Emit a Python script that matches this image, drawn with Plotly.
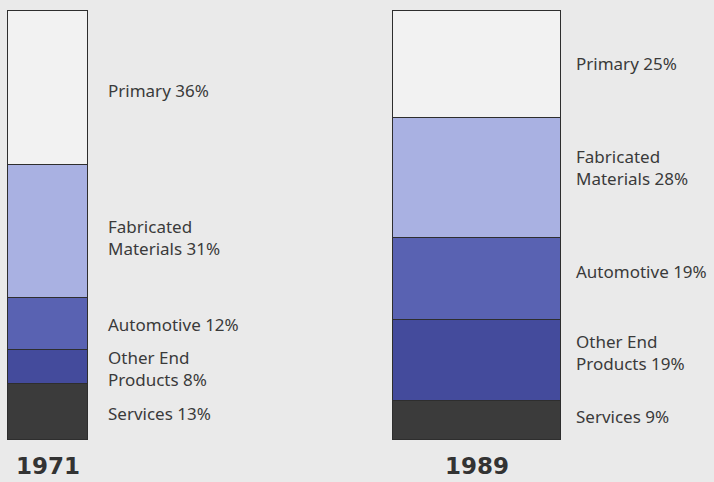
import plotly.graph_objects as go

# Share of shipments by market, two years compared
years = ["1971", "1989"]
segments = ["Services", "Other End<br>Products", "Automotive", "Fabricated<br>Materials", "Primary"]
share_1971 = [13, 8, 12, 31, 36]
share_1989 = [9, 19, 19, 28, 25]

# styling
colors = ["#3b3b3b", "#444b9c", "#5962b2", "#a9b1e2", "#f2f2f2"]
bar_centers = [48, 477]
bar_widths = [80, 168]
label_gap = [18, 13]
# vertical nudges (px) for the segment captions, bottom to top
label_nudge = {"1971": [-1, -1, 0, -6, -2], "1989": [4, 8, 8, 11, 1]}
text_color = "#3a3a3a"
bg = "#eaeaea"

shares = {"1971": share_1971, "1989": share_1989}

fig = go.Figure()
for i, seg in enumerate(segments):
    fig.add_trace(go.Bar(
        x=bar_centers,
        y=[shares[y][i] for y in years],
        width=bar_widths,
        marker=dict(color=colors[i], line=dict(color="#2e2e2e", width=1.2)),
        name=seg.replace("<br>", " "),
        showlegend=False,
        hoverinfo="skip",
    ))

# captions beside each segment
for j, yr in enumerate(years):
    vals = shares[yr]
    base = 0
    for i, seg in enumerate(segments):
        mid = base + vals[i] / 2
        base += vals[i]
        fig.add_annotation(
            x=bar_centers[j] + bar_widths[j] / 2 + label_gap[j],
            y=mid,
            xref="x", yref="y",
            yshift=label_nudge[yr][i],
            text=f"{seg} {vals[i]}%",
            showarrow=False,
            xanchor="left", yanchor="middle", align="left",
            font=dict(family="Noto Sans", size=17, color=text_color),
        )

fig.update_layout(
    width=714, height=482,
    margin=dict(l=0, r=0, t=0, b=42),
    paper_bgcolor=bg, plot_bgcolor=bg,
    barmode="stack",
    bargap=0,
    xaxis=dict(
        range=[0, 714], showgrid=False, zeroline=False, showline=False,
        tickvals=bar_centers, ticktext=[f"<b>{y}</b>" for y in years],
        tickfont=dict(family="DejaVu Sans", size=23, color="#333333"),
        ticks="", ticklabelstandoff=10,
    ),
    yaxis=dict(
        range=[0, 102.56], showgrid=False, zeroline=False, showline=False,
        showticklabels=False,
    ),
)

fig.write_html("out.html")
